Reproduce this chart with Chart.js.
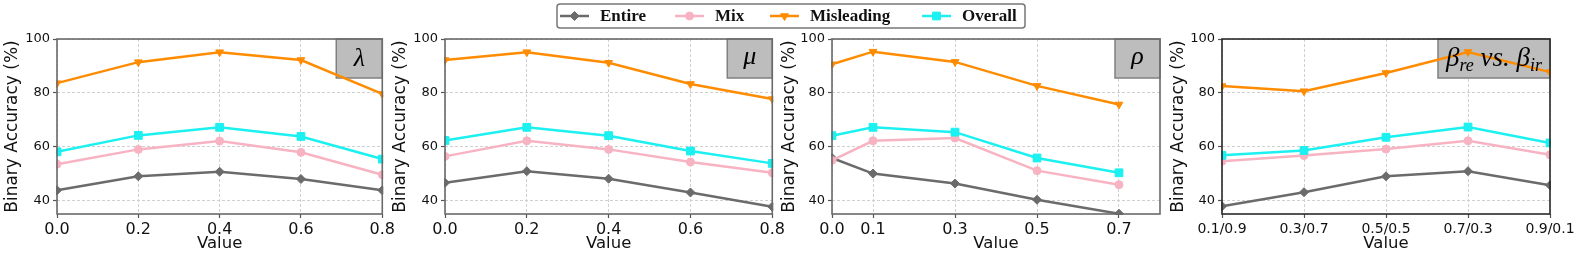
<!DOCTYPE html>
<html>
<head>
<meta charset="utf-8">
<script src="https://cdn.jsdelivr.net/npm/chart.js@4.4.0/dist/chart.umd.min.js"></script>
<style>
  body { margin: 0; background: #fff; width: 1578px; height: 255px; overflow: hidden; position: relative; }
  canvas { position: absolute; top: 0; }
</style>
</head>
<body>
<canvas id="c1" width="397" height="255" style="left:0px"></canvas>
<canvas id="c2" width="399" height="255" style="left:388px"></canvas>
<canvas id="c3" width="397" height="255" style="left:777px"></canvas>
<canvas id="c4" width="412" height="255" style="left:1166px"></canvas>
<canvas id="legend" width="490" height="32" style="left:550px"></canvas>
<script>
// x values / categories
const xLambda = [0, 0.2, 0.4, 0.6, 0.8];
const xMu = [0, 0.2, 0.4, 0.6, 0.8];
const xRho = [0, 0.1, 0.3, 0.5, 0.7];
const betaLabels = ["0.1/0.9", "0.3/0.7", "0.5/0.5", "0.7/0.3", "0.9/0.1"];
const yTicks = [40, 60, 80, 100];

// lambda panel
const lambdaEntire = [43.8, 49.0, 50.7, 48.0, 43.8];
const lambdaMix = [53.5, 59.0, 62.1, 57.9, 49.6];
const lambdaMisleading = [83.6, 91.4, 95.1, 92.2, 79.6];
const lambdaOverall = [58.1, 64.2, 67.2, 63.8, 55.4];

// mu panel
const muEntire = [46.6, 50.9, 48.1, 43.0, 37.7];
const muMix = [56.4, 62.2, 59.0, 54.3, 50.3];
const muMisleading = [92.2, 95.1, 91.2, 83.3, 77.7];
const muOverall = [62.3, 67.2, 64.1, 58.4, 53.8];

// rho panel
const rhoEntire = [55.8, 50.0, 46.3, 40.3, 35.1];
const rhoMix = [54.9, 62.2, 63.2, 51.1, 45.9];
const rhoMisleading = [90.6, 95.3, 91.5, 82.6, 75.7];
const rhoOverall = [64.1, 67.2, 65.4, 55.8, 50.3];

// beta_re vs beta_ir panel
const betaEntire = [37.9, 43.1, 49.0, 50.9, 45.7];
const betaMix = [54.6, 56.7, 59.1, 62.2, 57.0];
const betaMisleading = [82.5, 80.6, 87.4, 95.2, 87.7];
const betaOverall = [56.8, 58.6, 63.5, 67.3, 61.4];

const seriesNames = ["Entire", "Mix", "Misleading", "Overall"];
const seriesColors = ["#6b6b6b", "#f7b3c2", "#ff8c00", "#1cf0f0"];
const seriesMarkers = ["rectRot", "circle", "triangle", "rect"];
const markerRotation = [0, 0, 180, 0];
const markerRadius = [4.5, 4, 4.5, 5.5];

const tickColor = "#111";
const gridColor = "#d0d0d0";

// grey box with the parameter symbol + full frame round the plot
const symbolBox = {
  id: "symbolBox",
  beforeDatasetsDraw(chart, args, opts) {
    const a = chart.chartArea, ctx = chart.ctx;
    ctx.save();
    ctx.fillStyle = "#bdbdbd";
    ctx.strokeStyle = "#808080";
    ctx.lineWidth = 1.5;
    ctx.fillRect(a.right - opts.w, a.top, opts.w, opts.h);
    ctx.strokeRect(a.right - opts.w, a.top, opts.w, opts.h);
    ctx.restore();
  },
  afterDatasetsDraw(chart, args, opts) {
    const a = chart.chartArea, ctx = chart.ctx;
    ctx.save();
    ctx.strokeStyle = opts.frame;
    ctx.lineWidth = 1.6;
    ctx.strokeRect(a.left, a.top, a.right - a.left, a.bottom - a.top);
    // symbol text
    ctx.fillStyle = "#000";
    ctx.textBaseline = "alphabetic";
    let total = 0;
    opts.parts.forEach(p => {
      ctx.font = "italic " + p.s + "px 'Liberation Serif', 'DejaVu Serif', serif";
      p.w = ctx.measureText(p.t).width;
      total += p.w;
    });
    let x = a.right - opts.w / 2 - total / 2;
    const base = a.top + opts.h / 2 + opts.base;
    opts.parts.forEach(p => {
      ctx.font = "italic " + p.s + "px 'Liberation Serif', 'DejaVu Serif', serif";
      ctx.fillText(p.t, x, base + (p.dy || 0));
      x += p.w;
    });
    ctx.restore();
  }
};

function makeSeries(xs, lists) {
  return lists.map((vals, i) => ({
    label: seriesNames[i],
    data: xs ? xs.map((x, j) => ({ x: x, y: vals[j] })) : vals,
    borderColor: seriesColors[i],
    backgroundColor: seriesColors[i],
    borderWidth: 2.5,
    pointStyle: seriesMarkers[i],
    pointRotation: markerRotation[i],
    pointRadius: markerRadius[i],
    pointBorderWidth: 1,
    tension: 0,
    clip: 1,
    order: 4 - i
  }));
}

function makePanel(id, yWidth, rightPad, xAxis, datasets, box) {
  new Chart(document.getElementById(id), {
    type: "line",
    data: { labels: xAxis.labels, datasets: datasets },
    plugins: [symbolBox],
    options: {
      responsive: false,
      animation: false,
      devicePixelRatio: 1,
      layout: { padding: { top: 39, right: rightPad, bottom: 0, left: 0 } },
      plugins: {
        legend: { display: false },
        tooltip: { enabled: false },
        symbolBox: box
      },
      scales: {
        x: Object.assign({
          afterFit: s => { s.height = 41; },
          border: { display: false, dash: [3, 2] },
          grid: { color: gridColor, lineWidth: 1, tickLength: 4, tickColor: "#555", tickWidth: 1.2, tickBorderDash: [] },
          title: { display: true, text: "Value", color: tickColor, font: { family: "DejaVu Sans", size: 16.5 }, padding: { top: 0, bottom: 1 } }
        }, xAxis.opts),
        y: {
          min: 35,
          max: 100,
          afterBuildTicks: s => { s.ticks = yTicks.map(v => ({ value: v })); },
          afterFit: s => { s.width = yWidth; },
          border: { display: false, dash: [3, 2] },
          grid: { color: gridColor, lineWidth: 1, tickLength: 4, tickColor: "#555", tickWidth: 1.2, tickBorderDash: [] },
          ticks: { color: tickColor, padding: 3, font: { family: "DejaVu Sans", size: 13 } },
          title: { display: true, text: "Binary Accuracy (%)", color: tickColor, font: { family: "DejaVu Sans", size: 17 }, padding: { top: 2, bottom: 0 } }
        }
      }
    }
  });
}

function linearX(values) {
  return {
    opts: {
      type: "linear",
      min: 0,
      max: 0.8,
      afterBuildTicks: s => { s.ticks = values.map(v => ({ value: v })); },
      ticks: { color: tickColor, padding: 2, maxRotation: 0, autoSkip: false,
               font: { family: "DejaVu Sans", size: 16 }, callback: v => v.toFixed(1) }
    }
  };
}

makePanel("c1", 57, 14, linearX(xLambda),
  makeSeries(xLambda, [lambdaEntire, lambdaMix, lambdaMisleading, lambdaOverall]),
  { w: 46, h: 39, base: 7, frame: "#6a6a6a", parts: [{ t: "λ", s: 26 }] });

makePanel("c2", 57, 14, linearX(xMu),
  makeSeries(xMu, [muEntire, muMix, muMisleading, muOverall]),
  { w: 45, h: 39, base: 5, frame: "#6a6a6a", parts: [{ t: "μ", s: 26 }] });

makePanel("c3", 55, 14, linearX(xRho),
  makeSeries(xRho, [rhoEntire, rhoMix, rhoMisleading, rhoOverall]),
  { w: 45, h: 39, base: 5, frame: "#6a6a6a", parts: [{ t: "ρ", s: 26 }] });

makePanel("c4", 56, 28, {
    labels: betaLabels,
    opts: {
      type: "category",
      offset: false,
      ticks: { color: tickColor, padding: 3, maxRotation: 0, autoSkip: false, font: { family: "DejaVu Sans", size: 14 } }
    }
  },
  makeSeries(null, [betaEntire, betaMix, betaMisleading, betaOverall]),
  { w: 112, h: 39, base: 7, frame: "#2a2a2a", parts: [{ t: "β", s: 27 }, { t: "re", s: 18, dy: 5 }, { t: " vs. ", s: 27 }, { t: "β", s: 27 }, { t: "ir", s: 18, dy: 5 }] });

// shared legend on top
(function drawLegend() {
  const ctx = document.getElementById("legend").getContext("2d");
  ctx.fillStyle = "#fff";
  ctx.strokeStyle = "#777";
  ctx.lineWidth = 1.5;
  ctx.beginPath();
  ctx.roundRect(7, 4, 468, 24, 3);
  ctx.fill();
  ctx.stroke();
  const lineX = [10, 125, 220, 372];
  const cy = 16;
  ctx.font = "bold 17px 'Liberation Serif', 'DejaVu Serif', serif";
  ctx.textBaseline = "middle";
  seriesNames.forEach((name, i) => {
    ctx.strokeStyle = seriesColors[i];
    ctx.fillStyle = seriesColors[i];
    ctx.lineWidth = 2.5;
    ctx.beginPath();
    ctx.moveTo(lineX[i], cy);
    ctx.lineTo(lineX[i] + 29, cy);
    ctx.stroke();
    ctx.lineWidth = 1;
    Chart.helpers.drawPoint(ctx, { pointStyle: seriesMarkers[i], radius: markerRadius[i], rotation: markerRotation[i], borderWidth: 1 }, lineX[i] + 14.5, cy);
    ctx.fillStyle = "#111";
    ctx.fillText(name, lineX[i] + 40, cy + 1);
  });
})();
</script>
</body>
</html>
